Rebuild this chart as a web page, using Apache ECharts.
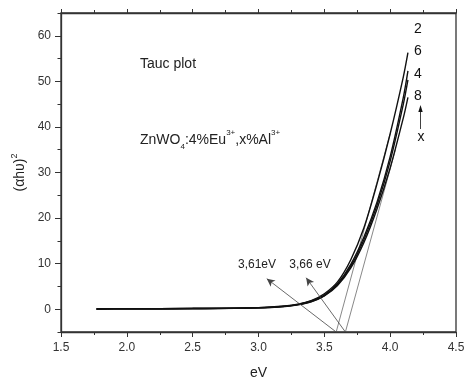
<!DOCTYPE html>
<html><head><meta charset="utf-8">
<script src="https://cdn.jsdelivr.net/npm/echarts@6/dist/echarts.min.js"></script>
<style>html,body{margin:0;padding:0;background:#fff}#c{width:465px;height:381px}</style>
</head><body><div id="c"></div>
<script>
// ---- data ----
const eV = [1.77, 2.0, 2.5, 3.0, 3.2, 3.3, 3.4, 3.5, 3.6, 3.7, 3.8, 3.9, 4.0, 4.1, 4.135];
const curve2 = [0.05, 0.08, 0.15, 0.35, 0.7, 1.1, 1.9, 3.4, 6.0, 10.8, 17.8, 27.5, 38.5, 51.0, 56.3];
const curve6 = [0.05, 0.08, 0.15, 0.33, 0.65, 1.05, 1.8, 3.1, 5.6, 9.8, 15.8, 23.5, 33.5, 46.5, 52.3];
const curve4 = [0.05, 0.08, 0.15, 0.32, 0.62, 1.0, 1.7, 3.0, 5.4, 9.4, 15.2, 22.8, 32.5, 45.0, 50.3];
const curve8 = [0.05, 0.08, 0.15, 0.3, 0.6, 0.95, 1.6, 2.9, 5.2, 9.0, 14.6, 22.0, 31.0, 42.0, 46.5];
const tangent1 = [[3.59, -5], [4.0, 38.5]];
const tangent2 = [[3.66, -5], [4.04, 35]];
const pointer1 = [[3.59, -5], [3.063, 6.7]];
const pointer2 = [[3.66, -5], [3.362, 6.9]];
const yLabels = [0, 10, 20, 30, 40, 50, 60];
const yMinor = [-5, 5, 15, 25, 35, 45, 55, 65];
const curveLabels = ['2', '6', '4', '8'];

const zip = (xs, ys) => xs.map((x, i) => [x, ys[i]]);
const font = 'Liberation Sans, Arial, sans-serif';
const axCol = '#333';

const chart = echarts.init(document.getElementById('c'), null, {renderer: 'canvas'});
const curveSeries = [curve2, curve6, curve4, curve8].map((d, i) => ({
  type: 'line', name: curveLabels[i], data: zip(eV, d), smooth: 0.3, symbol: 'none',
  lineStyle: {color: '#111', width: 1.4}, z: 3
}));
const thin = (d) => ({type: 'line', data: d, symbol: 'none', lineStyle: {color: '#555', width: 0.7}, z: 2});
const pointer = (d) => ({
  type: 'line', data: [], symbol: 'none',
  markLine: {silent: true, symbol: ['none', 'arrow'], symbolSize: [6, 8], label: {show: false},
    lineStyle: {color: '#444', width: 0.8, type: 'solid'},
    data: [[{coord: d[0]}, {coord: d[1]}]]}
});
const gridBox = {left: 61, right: 9, top: 13, bottom: 49, outerBoundsMode: 'none', containLabel: false};

chart.setOption({
  animation: false,
  grid: [
    Object.assign({show: true, borderColor: axCol, borderWidth: 1.3, backgroundColor: 'transparent'}, gridBox),
    Object.assign({show: false}, gridBox)
  ],
  xAxis: [{
    gridIndex: 0, type: 'value', min: 1.5, max: 4.5, interval: 0.5,
    name: 'eV', nameLocation: 'middle', nameGap: 34,
    nameTextStyle: {fontFamily: font, fontSize: 14, color: '#222'},
    axisLine: {show: true, onZero: false, lineStyle: {color: axCol, width: 1.3}},
    axisTick: {show: true, length: 5, lineStyle: {color: axCol}},
    minorTick: {show: true, splitNumber: 2, length: 3, lineStyle: {color: axCol}},
    axisLabel: {fontFamily: font, fontSize: 12, color: '#333', margin: 10, formatter: v => v.toFixed(1)},
    splitLine: {show: false}
  }, {
    gridIndex: 0, type: 'value', position: 'top', min: 1.5, max: 4.5, interval: 0.5,
    axisLine: {show: true, onZero: false, lineStyle: {color: axCol, width: 1.3}},
    axisTick: {show: true, length: 4, lineStyle: {color: axCol}},
    minorTick: {show: true, splitNumber: 2, length: 3, lineStyle: {color: axCol}},
    axisLabel: {show: false}, splitLine: {show: false}
  }, {
    gridIndex: 1, type: 'value', min: 1.5, max: 4.5, show: false
  }],
  yAxis: [{
    gridIndex: 0, type: 'value', min: -5, max: 65,
    name: '{a|(αhυ)}{s|2}', nameLocation: 'middle', nameGap: 31, nameRotate: 90,
    nameTextStyle: {rich: {
      a: {fontFamily: font, fontSize: 14, color: '#222', lineHeight: 20},
      s: {fontFamily: font, fontSize: 9, color: '#222', verticalAlign: 'top', lineHeight: 20}
    }},
    axisLine: {show: true, onZero: false, lineStyle: {color: axCol, width: 1.3}},
    axisTick: {show: true, length: 6, customValues: yLabels, lineStyle: {color: axCol}},
    axisLabel: {fontFamily: font, fontSize: 12, color: '#333', margin: 10, customValues: yLabels},
    splitLine: {show: false}
  }, {
    gridIndex: 1, type: 'value', min: -5, max: 65, position: 'left',
    axisLine: {show: false, onZero: false},
    axisTick: {show: true, length: 3.5, customValues: yMinor, lineStyle: {color: axCol}},
    axisLabel: {show: false}, splitLine: {show: false}
  }],
  series: [
    thin(tangent1), thin(tangent2),
    pointer(pointer1), pointer(pointer2),
    ...curveSeries
  ],
  graphic: [
    {type: 'text', left: 140, top: 57, style: {text: 'Tauc plot', font: '14px ' + font, fill: '#222'}},
    {type: 'text', left: 140, top: 129, style: {
      text: '{a|ZnWO}{b|4}{a|:4%Eu}{c|3+}{a|,x%Al}{c|3+}',
      rich: {
        a: {fontFamily: font, fontSize: 14, fill: '#222', lineHeight: 22},
        b: {fontFamily: font, fontSize: 8, fill: '#222', verticalAlign: 'bottom', lineHeight: 22},
        c: {fontFamily: font, fontSize: 8, fill: '#222', verticalAlign: 'top', lineHeight: 22}
      }}},
    {type: 'text', x: 257, y: 265, style: {text: '3,61eV', font: '12px ' + font, fill: '#222', align: 'center', verticalAlign: 'middle'}},
    {type: 'text', x: 310, y: 265, style: {text: '3,66 eV', font: '12px ' + font, fill: '#222', align: 'center', verticalAlign: 'middle'}},
    ...curveLabels.map((t, i) => ({type: 'text', x: 418, y: [29, 51, 74, 96][i],
      style: {text: t, font: '14px ' + font, fill: '#111', align: 'center', verticalAlign: 'middle'}})),
    {type: 'line', shape: {x1: 420.5, y1: 129, x2: 420.5, y2: 110}, style: {stroke: '#111', lineWidth: 0.8}},
    {type: 'polygon', shape: {points: [[420.5, 105], [418.3, 112], [422.7, 112]]}, style: {fill: '#111'}},
    {type: 'text', x: 421, y: 137, style: {text: 'x', font: '14px ' + font, fill: '#111', align: 'center', verticalAlign: 'middle'}}
  ]
});
</script></body></html>
